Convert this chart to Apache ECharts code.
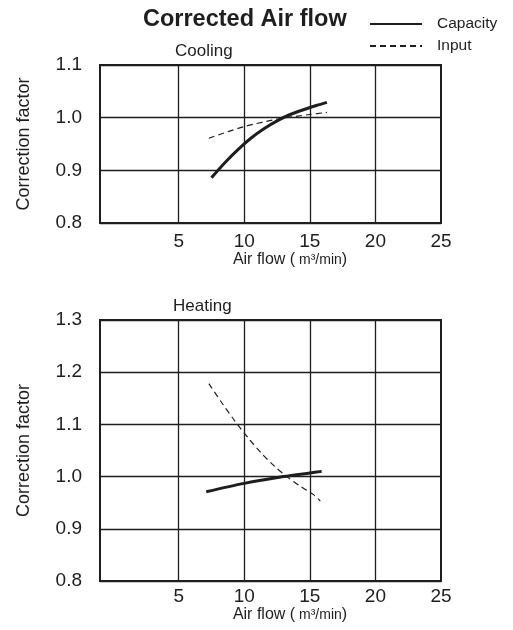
<!DOCTYPE html>
<html>
<head>
<meta charset="utf-8">
<script src="https://cdn.jsdelivr.net/npm/echarts@6/dist/echarts.min.js"></script>
<style>html,body{margin:0;padding:0;background:#fff}#c{width:513px;height:630px}</style>
</head>
<body>
<div id="c"></div>
<script>
// ---- data ----
const xTickValues = [5, 10, 15, 20, 25];
const coolCapX = [7.5, 8.5, 9.5, 10.5, 11.5, 12.5, 13.5, 14.5, 15.5, 16.3];
const coolCapY = [0.886, 0.914, 0.939, 0.961, 0.979, 0.994, 1.006, 1.015, 1.023, 1.029];
const coolInX = [7.3, 10, 12.7, 15, 16.3];
const coolInY = [0.961, 0.983, 0.998, 1.006, 1.010];
const heatCapX = [7.1, 10, 13.0, 15, 15.9];
const heatCapY = [0.971, 0.987, 1.000, 1.007, 1.010];
const heatInX = [7.3, 8.3, 9.3, 10.3, 11.3, 12.3, 13.3, 14.3, 15.3, 15.8];
const heatInY = [1.178, 1.141, 1.106, 1.074, 1.045, 1.020, 0.999, 0.981, 0.965, 0.953];

const zip = (xs, ys) => xs.map((x, i) => [x, ys[i]]);
const ink = '#1e1e1e';
const font = '"Liberation Sans", Arial, Helvetica, sans-serif';

function xAxis(gridIndex, labelMargin, nameGap) {
  return {
    type: 'value', gridIndex, min: -1, max: 25,
    axisLine: { show: true, onZero: false, lineStyle: { color: ink, width: 2 } },
    axisTick: { show: false, customValues: [5, 10, 15, 20] },
    axisLabel: { customValues: xTickValues, margin: labelMargin, color: ink, fontSize: 19, fontFamily: font },
    splitLine: { show: true, lineStyle: { color: ink, width: 1.3 } },
    name: 'Air flow (' + '{s| m³/min}' + ')',
    nameLocation: 'middle', nameGap,
    nameTextStyle: { color: ink, fontSize: 16, fontFamily: font, padding: [0, 0, 0, 39],
      rich: { s: { fontSize: 14, fontFamily: font, color: ink } } }
  };
}
function yAxis(gridIndex, min, max) {
  return {
    type: 'value', gridIndex, min, max, interval: 0.1,
    axisLine: { show: true, onZero: false, lineStyle: { color: ink, width: 2 } },
    axisTick: { show: false },
    axisLabel: { margin: 18, color: ink, fontSize: 19, fontFamily: font, formatter: v => v.toFixed(1) },
    splitLine: { show: true, lineStyle: { color: ink, width: 1.3 } },
    name: 'Correction factor', nameLocation: 'middle', nameGap: 67,
    nameTextStyle: { color: ink, fontSize: 18, fontFamily: font }
  };
}
function capSeries(name, xi, data) {
  return { name, type: 'line', xAxisIndex: xi, yAxisIndex: xi, data, smooth: 0.3,
    symbol: 'none', showSymbol: false, lineStyle: { color: ink, width: 3 }, itemStyle: { color: ink } };
}
function inSeries(name, xi, data) {
  return { name, type: 'line', xAxisIndex: xi, yAxisIndex: xi, data, smooth: 0.3,
    symbol: 'none', showSymbol: false, lineStyle: { color: ink, width: 1.2, type: [6, 4] }, itemStyle: { color: ink } };
}

const chart = echarts.init(document.getElementById('c'), null, { renderer: 'canvas' });
chart.setOption({
  animation: false,
  backgroundColor: '#fff',
  title: [
    { text: 'Corrected Air flow', left: 143, top: 8, padding: 0,
      textStyle: { fontSize: 23.5, fontWeight: 'bold', color: ink, fontFamily: font } },
    { text: 'Cooling', left: 175, top: 43, padding: 0,
      textStyle: { fontSize: 17, fontWeight: 'normal', color: ink, fontFamily: font } },
    { text: 'Heating', left: 173, top: 298, padding: 0,
      textStyle: { fontSize: 17, fontWeight: 'normal', color: ink, fontFamily: font } }
  ],
  legend: {
    left: 369, top: 16, orient: 'vertical', padding: 0,
    itemWidth: 52, itemHeight: 14, itemGap: 6,
    data: ['Capacity', 'Input'],
    itemStyle: { color: 'rgba(0,0,0,0)', borderWidth: 0, opacity: 0 },
    textStyle: { fontSize: 15.5, color: ink, fontFamily: font, padding: [0, 0, 0, 10] }
  },
  grid: [
    { left: 100, top: 65, width: 341, height: 158, show: true, borderColor: ink, borderWidth: 2, backgroundColor: 'transparent' },
    { left: 100, top: 320, width: 341, height: 261, show: true, borderColor: ink, borderWidth: 2, backgroundColor: 'transparent' }
  ],
  xAxis: [xAxis(0, 9, 27), xAxis(1, 6, 26)],
  yAxis: [yAxis(0, 0.8, 1.1), yAxis(1, 0.8, 1.3)],
  series: [
    capSeries('Capacity', 0, zip(coolCapX, coolCapY)),
    inSeries('Input', 0, zip(coolInX, coolInY)),
    capSeries('Capacity', 1, zip(heatCapX, heatCapY)),
    inSeries('Input', 1, zip(heatInX, heatInY))
  ]
});
</script>
</body>
</html>
